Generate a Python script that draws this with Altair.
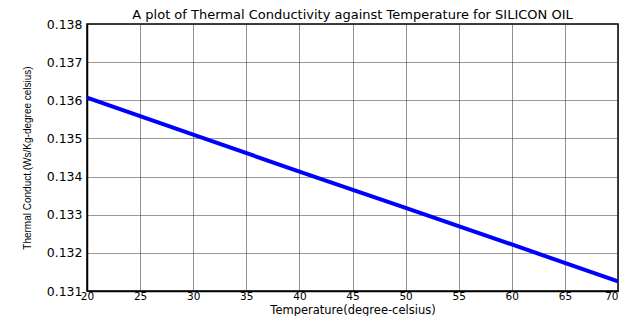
import altair as alt
import pandas as pd

temperature = [20, 30, 40, 50, 60, 70]
conductivity = [0.13607, 0.13510, 0.13413, 0.13318, 0.13222, 0.13125]

x_ticks = [20, 25, 30, 35, 40, 45, 50, 55, 60, 65, 70]
y_ticks = [0.131, 0.132, 0.133, 0.134, 0.135, 0.136, 0.137, 0.138]

df = pd.DataFrame({"t": temperature, "k": conductivity})

chart = alt.Chart(df).mark_line(color="#0000FF", strokeWidth=4, clip=True).encode(
    x=alt.X("t:Q", scale=alt.Scale(domain=[20, 70], nice=False, zero=False),
            axis=alt.Axis(values=x_ticks, title="Temperature(degree-celsius)",
                          grid=True, gridColor="#222", gridWidth=1, gridDash=[1, 1],
                          ticks=False, domain=True, domainColor="black", domainWidth=1.5,
                          labelFont="DejaVu Sans", labelFontSize=10.5, labelColor="black",
                          labelPadding=0, labelFlush=False,
                          labelAlign={"expr": "datum.value == 70 ? 'right' : 'center'"},
                          titleFont="DejaVu Sans", titleFontSize=11.5, titleFontWeight="normal",
                          titleColor="black", titleY=24.5, titleBaseline="bottom")),
    y=alt.Y("k:Q", scale=alt.Scale(domain=[0.131, 0.138], nice=False, zero=False),
            axis=alt.Axis(values=y_ticks, format=".3f", title="Thermal Conduct.(Ws/Kg-degree celsius)",
                          grid=True, gridColor="#333", gridWidth=1, gridDash=[1, 1],
                          ticks=False, domain=True, domainColor="black", domainWidth=1.5,
                          labelFont="DejaVu Sans", labelFontSize=12.5, labelColor="black",
                          labelPadding=5, labelFlush=False,
                          titleFont="Liberation Sans", titleFontSize=10, titleFontWeight="normal",
                          titleColor="black", titleX=-55, titleY=133.5)),
).properties(
    width=531,
    height=267,
    title=alt.TitleParams("A plot of Thermal Conductivity against Temperature for SILICON OIL",
                          font="DejaVu Sans", fontSize=13, fontWeight="normal", color="black",
                          anchor="middle", offset=0, dy=4),
    autosize=alt.AutoSizeParams(type="none"),
    padding={"left": 79, "top": 16, "right": 4, "bottom": 25},
).configure_view(stroke="black", strokeWidth=1.5)

chart.save("out.html", embed_options={"renderer": "svg", "actions": False})
